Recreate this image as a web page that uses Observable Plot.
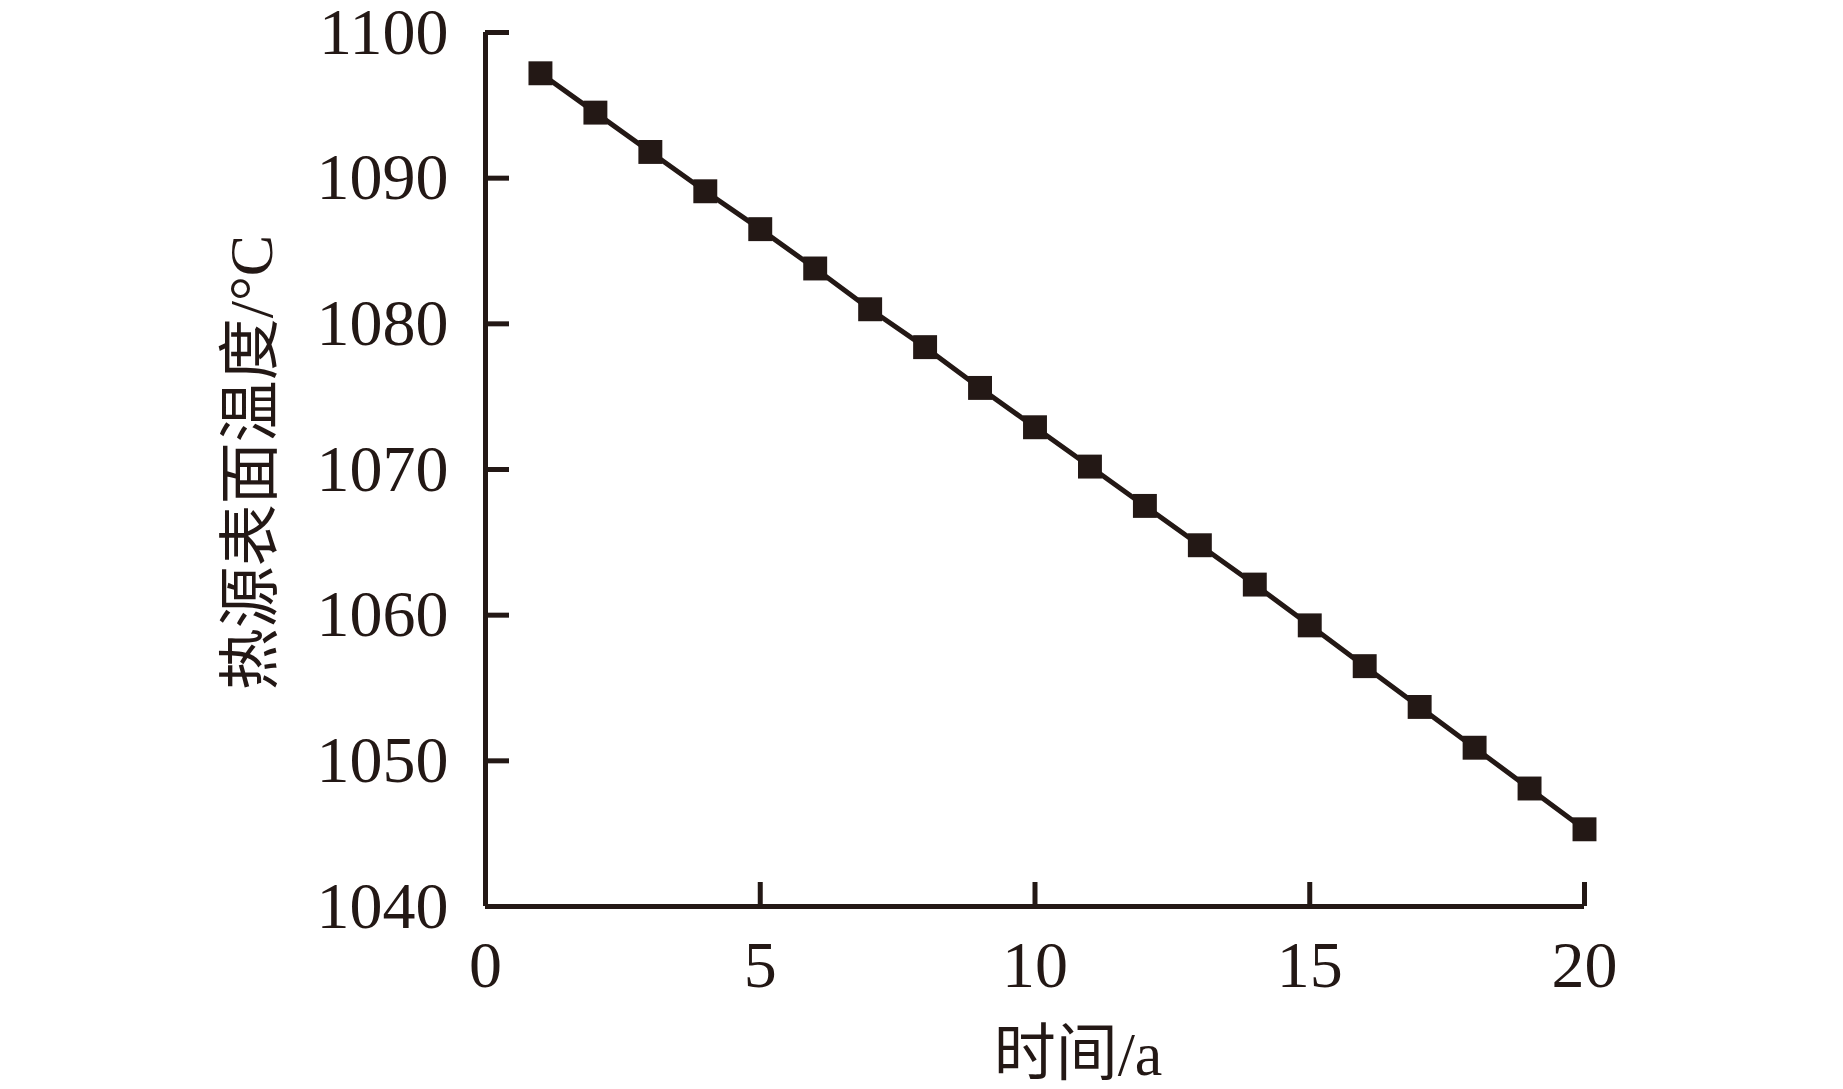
<!DOCTYPE html>
<html>
<head>
<meta charset="utf-8">
<script src="https://cdn.jsdelivr.net/npm/d3@7"></script>
<script src="https://cdn.jsdelivr.net/npm/@observablehq/plot@0.6"></script>
<style>
  html, body { margin: 0; padding: 0; background: #fff; }
  svg { display: block; }
</style>
</head>
<body>
<div id="chart"></div>
<script>
const years = [1, 2, 3, 4, 5, 6, 7, 8, 9, 10, 11, 12, 13, 14, 15, 16, 17, 18, 19, 20];
const temps = [1097.2, 1094.5, 1091.8, 1089.1, 1086.5, 1083.8, 1081.0, 1078.4, 1075.6, 1072.9,
               1070.2, 1067.5, 1064.8, 1062.1, 1059.3, 1056.5, 1053.7, 1050.9, 1048.1, 1045.3];
const xTicks = [0, 5, 10, 15, 20];
const yTicks = [1040, 1050, 1060, 1070, 1080, 1090, 1100];
const xLabel = "时间/a";
const yLabel = "热源表面温度/°C";

const data = years.map((x, i) => ({x, y: temps[i]}));
const ink = "#231815";
const font = "'Liberation Serif', 'Noto Sans CJK SC', serif";

const chart = Plot.plot({
  width: 1843,
  height: 1089,
  marginLeft: 485,
  marginRight: 259,
  marginTop: 32,
  marginBottom: 183,
  style: {fontFamily: font, color: ink, background: "#fff"},
  x: {domain: [0, 20]},
  y: {domain: [1040, 1100]},
  marks: [
    Plot.axisX({ticks: xTicks, tickSize: -24, tickPadding: 58, fontSize: 66, strokeWidth: 5, label: null, tickFormat: d => String(d)}),
    Plot.axisY({ticks: yTicks, tickSize: -24, tickPadding: 61, fontSize: 66, strokeWidth: 5, label: null, tickFormat: d => String(d)}),
    Plot.ruleX([0], {stroke: ink, strokeWidth: 5}),
    Plot.ruleY([1040], {stroke: ink, strokeWidth: 5}),
    Plot.line(data, {x: "x", y: "y", stroke: ink, strokeWidth: 5}),
    Plot.dot(data, {x: "x", y: "y", symbol: "square", r: 13.5, fill: ink, stroke: "none"}),
    Plot.text([xLabel], {frameAnchor: "bottom", dx: 43, dy: 168, textAnchor: "middle", lineAnchor: "bottom", fontSize: 62, fill: ink, fontFamily: font}),
    Plot.text([yLabel], {frameAnchor: "left", dx: -233, dy: -7, rotate: -90, textAnchor: "middle", lineAnchor: "middle", fontSize: 62, fill: ink, fontFamily: font})
  ]
});
document.getElementById("chart").appendChild(chart);
</script>
</body>
</html>
